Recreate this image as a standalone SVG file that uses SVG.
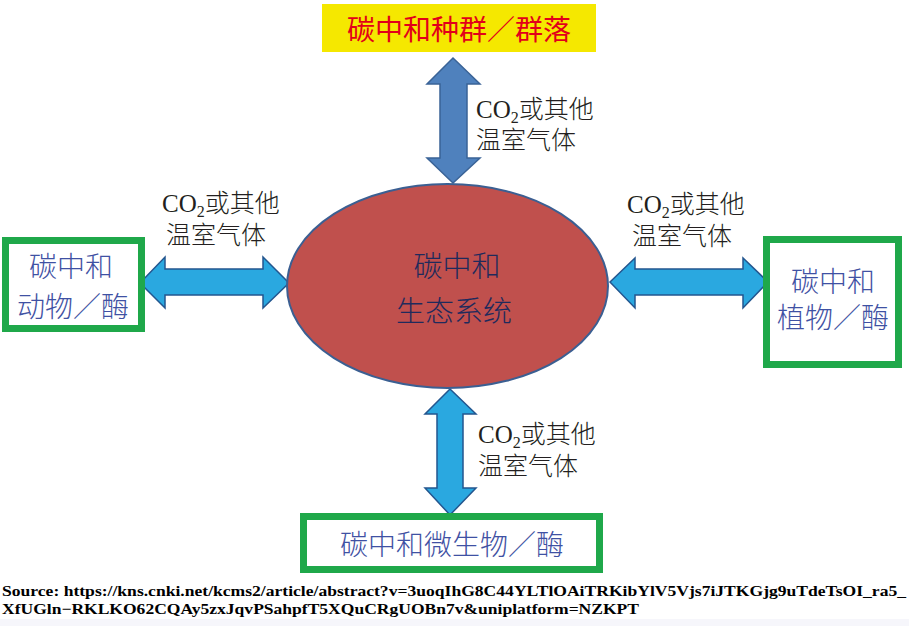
<svg xmlns="http://www.w3.org/2000/svg" width="909" height="626" viewBox="0 0 909 626">
<style>
.lbl{font-family:"Noto Sans CJK SC","Liberation Serif",serif;font-size:25px;fill:#231f20;font-weight:300}
.co{font-family:"Liberation Serif",serif}
.box{fill:#fff;stroke:#1fa84a;stroke-width:7}
.bt{font-family:"Noto Sans CJK SC",sans-serif;font-size:28px;fill:#3f51a3;text-anchor:middle;font-weight:300}
.arL{fill:#2aa8e0;stroke:#23568f;stroke-width:1.5}
.arD{fill:#4f81bd;stroke:#3a6397;stroke-width:1.5}
</style>
<rect width="909" height="626" fill="#fff"/>
<rect x="0" y="619" width="909" height="7" fill="#f6f6fb"/>
<g id="connectors">
<polygon class="arD" points="453,58 480,84 467,84 467,158 480,158 453,183 427,158 440,158 440,84 427,84"/>
<polygon class="arL" points="140,283 165,257 165,269 263,269 263,257 289,283 263,308 263,295 165,295 165,308"/>
<polygon class="arL" points="610,282 635,258 635,269 743,269 743,258 768,282 743,308 743,295 635,295 635,308"/>
<polygon class="arL" points="450,389 476,414 463,414 463,488 476,488 450,515 425,488 437,488 437,414 425,414"/>
<text class="lbl" x="476" y="118"><tspan class="co">CO</tspan><tspan class="co" font-size="16" dy="5">2</tspan><tspan dy="-5">或其他</tspan></text>
<text class="lbl" x="476" y="149">温室气体</text>
<text class="lbl" x="162" y="212"><tspan class="co">CO</tspan><tspan class="co" font-size="16" dy="5">2</tspan><tspan dy="-5">或其他</tspan></text>
<text class="lbl" x="166" y="244">温室气体</text>
<text class="lbl" x="627" y="213"><tspan class="co">CO</tspan><tspan class="co" font-size="16" dy="5">2</tspan><tspan dy="-5">或其他</tspan></text>
<text class="lbl" x="632" y="245">温室气体</text>
<text class="lbl" x="478" y="443"><tspan class="co">CO</tspan><tspan class="co" font-size="16" dy="5">2</tspan><tspan dy="-5">或其他</tspan></text>
<text class="lbl" x="478" y="475">温室气体</text>
</g>
<g id="top">
<rect x="322" y="4" width="274" height="48" fill="#f5e800"/>
<text x="459" y="40" font-family="Noto Sans CJK SC,sans-serif" font-size="28" fill="#e2001a" text-anchor="middle">碳中和种群／群落</text>
</g>
<g id="center">
<ellipse cx="447.5" cy="286" rx="160.5" ry="102" fill="#c0504d" stroke="#3b5f92" stroke-width="2"/>
<text x="457" y="277" font-family="Noto Sans CJK SC,sans-serif" font-size="29" fill="#1f2a5c" text-anchor="middle" font-weight="300">碳中和</text>
<text x="454" y="322" font-family="Noto Sans CJK SC,sans-serif" font-size="29" fill="#1f2a5c" text-anchor="middle" font-weight="300">生态系统</text>
</g>
<g id="left">
<rect class="box" x="5.5" y="240.5" width="136" height="88"/>
<text class="bt" x="71" y="277">碳中和</text>
<text class="bt" x="73" y="317">动物／酶</text>
</g>
<g id="right">
<rect class="box" x="766.5" y="239.5" width="132" height="125"/>
<text class="bt" x="833" y="292">碳中和</text>
<text class="bt" x="833" y="328">植物／酶</text>
</g>
<g id="bottom">
<rect class="box" x="303.5" y="516.5" width="296" height="53"/>
<text class="bt" x="452" y="555">碳中和微生物／酶</text>
</g>
<g id="source" font-family="Liberation Serif,serif" font-weight="bold" font-size="15" fill="#000">
<text x="2" y="596" textLength="904" lengthAdjust="spacingAndGlyphs">Source: https://kns.cnki.net/kcms2/article/abstract?v=3uoqIhG8C44YLTlOAiTRKibYlV5Vjs7iJTKGjg9uTdeTsOI_ra5_</text>
<text x="2" y="614" textLength="637" lengthAdjust="spacingAndGlyphs">XfUGln−RKLKO62CQAy5zxJqvPSahpfT5XQuCRgUOBn7v&amp;uniplatform=NZKPT</text>
</g>
</svg>
